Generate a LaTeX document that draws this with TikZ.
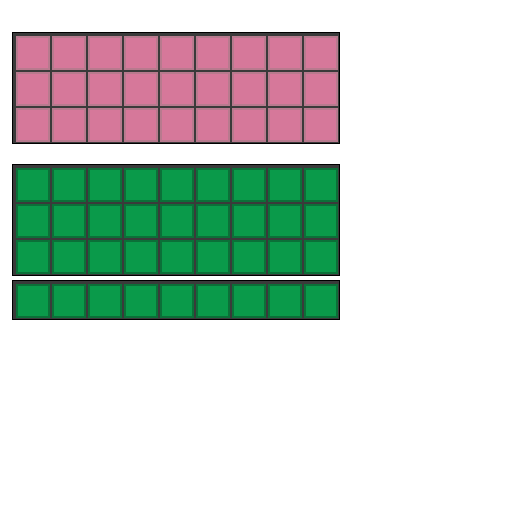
\documentclass[tikz,border=0pt]{standalone}
\definecolor{rose}{HTML}{D6789A}
\definecolor{roseedge}{HTML}{B87A8E}
\definecolor{leaf}{HTML}{0A9A4A}
\definecolor{leafedge}{HTML}{0B7038}
\definecolor{grout}{HTML}{3A3A3A}
\begin{document}
\begin{tikzpicture}[x=1pt,y=-1pt,
	tray/.style={draw=black,line width=1pt,fill=grout},
	cell/.style={draw,line width=2pt,minimum size=32pt,inner sep=0pt,anchor=north west}]
	\useasboundingbox (0,0) rectangle (512,512);
	% pink tray, 3 rows
	\draw[tray] (12.5,32.5) rectangle (339.5,143.5);
	\foreach \r in {0,1,2} \foreach \c in {0,...,8}
		\node[cell,fill=rose,draw=roseedge] (p\r\c) at (16+36*\c,36+36*\r) {};
	% green tray, 3 rows
	\draw[tray] (12.5,164.5) rectangle (339.5,275.5);
	\foreach \r in {0,1,2} \foreach \c in {0,...,8}
		\node[cell,fill=leaf,draw=leafedge] (g\r\c) at (16+36*\c,168+36*\r) {};
	% green tray, 1 row
	\draw[tray] (12.5,280.5) rectangle (339.5,319.5);
	\foreach \c in {0,...,8}
		\node[cell,fill=leaf,draw=leafedge] (h\c) at (16+36*\c,284) {};
\end{tikzpicture}
\end{document}
